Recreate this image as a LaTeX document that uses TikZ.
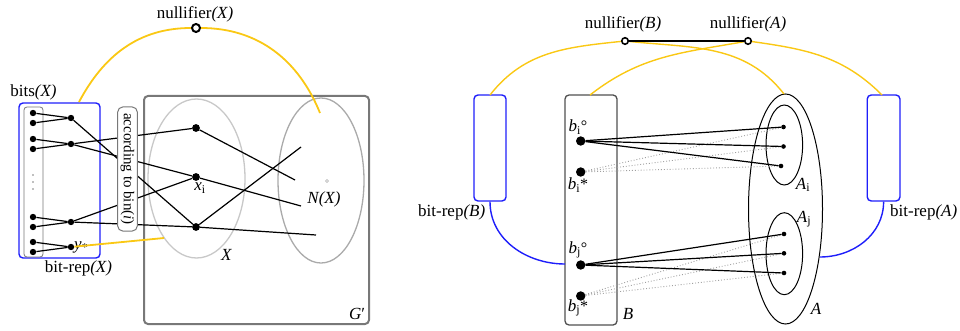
\documentclass[tikz,border=0pt]{standalone}
\usepackage{fontspec}
\setmainfont{Liberation Serif}
\usetikzlibrary{shapes.geometric}
\definecolor{gold}{RGB}{250,200,20}
\definecolor{repblue}{RGB}{30,30,250}
\definecolor{framegray}{RGB}{120,120,120}
\definecolor{setgray}{RGB}{200,200,200}
\definecolor{nbgray}{RGB}{170,170,170}
\definecolor{bgray}{RGB}{80,80,80}
% a bit variable: italic letter, upright index, then a mark
\newcommand{\bitvar}[3]{\textit{#1}\textsubscript{#2}{\fontsize{16}{16}\selectfont #3}}
\begin{document}
\begin{tikzpicture}[x=1pt,y=-1pt,
  lbl/.style={font=\fontsize{17}{19}\selectfont, inner sep=0pt},
  bitdot/.style={circle,fill=black,inner sep=0pt,minimum size=6.4pt},
  vdot/.style={circle,fill=black,inner sep=0pt,minimum size=7.8pt},
  bdot/.style={circle,fill=black,inner sep=0pt,minimum size=9.4pt},
  adot/.style={circle,fill=black,inner sep=0pt,minimum size=4.6pt},
  nulldot/.style={circle,draw=black,fill=white,inner sep=0pt},
  edge/.style={line width=1.2pt},
  weak/.style={draw=gray!75, dotted, line width=0.9pt},
  goldline/.style={draw=gold, line width=#1},
  goldline/.default=1.4pt,
  repline/.style={draw=repblue, line width=1.4pt},
  repbox/.style={draw=repblue, line width=1.4pt, rounded corners=4pt, inner sep=0pt},
  setell/.style={ellipse, inner sep=0pt},
]
\useasboundingbox (0,0) rectangle (960,331);

% ---------------- left part: bit representation of X ----------------
\node[draw=framegray, line width=2pt, rounded corners=4pt, minimum width=225pt, minimum height=228pt, inner sep=0pt] (Gp) at (256.5,210) {};
\node[lbl] at (357,314) {\textit{G}′};

\node[setell, draw=setgray, line width=1.3pt, minimum width=97pt, minimum height=159pt] (Xset) at (196.5,178.5) {};
\node[setell, draw=nbgray, line width=1.3pt, minimum width=86pt, minimum height=165pt] (NX) at (321,180.5) {};
\node[circle, draw=nbgray, line width=0.5pt, inner sep=0pt, minimum size=3pt] (nxc) at (327,181) {};
\node[lbl] at (226.5,255) {\textit{X}};
\node[lbl] at (324,199) {\textit{N(X)}};

\node[repbox, minimum width=81pt, minimum height=155pt] (bitrepX) at (59.5,180.5) {};
\node[draw=framegray, line width=0.8pt, rounded corners=3pt, minimum width=19pt, minimum height=150pt, inner sep=0pt] (bitsX) at (33.5,182) {};
\node[lbl] at (33.5,92) {bits\textit{(X)}};
\node[lbl] at (78.5,268) {bit-rep\textit{(X)}};

% bit vertices
\foreach \n/\y in {1/113,2/123,3/139,4/149,5/217,6/227,7/242,8/252}
  \node[bitdot] (l\n) at (33,\y) {};
\foreach \y in {175,182,189}
  \fill[gray] (33,\y) circle (0.8pt);
\foreach \n/\y in {1/118,2/144,3/222,4/247}
  \node[bitdot] (m\n) at (71,\y) {};
\node[font=\fontsize{17}{19}\selectfont, inner sep=0pt, anchor=west] at (74,247) {\textit{y}\textsubscript{*}};

% vertices of X
\node[vdot] (x1) at (196,128) {};
\node[vdot] (x2) at (196,177) {};
\node[vdot] (x3) at (196,227) {};
\node[lbl] at (200,188) {\textit{x}\textsubscript{i}};

\coordinate (n1) at (295,180);
\coordinate (n2) at (301,206);
\coordinate (n3) at (301,147);
\coordinate (n4) at (316,235);

\foreach \a/\b in {l1/m1,l2/m1,l3/m2,l4/m2,l5/m3,l6/m3,l7/m4,l8/m4,
                   m1/x3,m2/x1,m2/x2,m3/x2,m3/x3,
                   x1/n1,x2/n2,x3/n3,x3/n4}
  \draw[edge] (\a) -- (\b);

\node[draw=framegray, line width=1pt, fill=white, rounded corners=5pt, rotate=-90,
      minimum width=124pt, minimum height=19.6pt, inner sep=0pt,
      font=\fontsize{15}{17}\selectfont] (bin) at (127.5,169) {according to bin(\textit{i})};

% nullifier of X
\node[nulldot, line width=2pt, minimum size=8pt] (nullX) at (196,28) {};
\node[lbl] at (195,14) {nullifier\textit{(X)}};
\coordinate (gxs) at (79,102);
\coordinate (gxe) at (320,113);
\coordinate (gys) at (164,238);
\draw[goldline=1.8pt] (gxs) to[out=62,in=180] (nullX);
\draw[goldline=1.8pt] (nullX) to[out=0,in=112] (gxe);
\draw[goldline=1.8pt] (m4) -- (gys);

% ---------------- right part: sets A and B ----------------
\node[setell, draw=black, line width=1pt, minimum width=74pt, minimum height=230pt] (Aset) at (785.5,209) {};
\node[setell, draw=black, line width=1pt, minimum width=36.6pt, minimum height=80pt] (Ai) at (784.3,145) {};
\node[setell, draw=black, line width=1pt, minimum width=36.6pt, minimum height=82pt] (Aj) at (784.3,253.7) {};
\node[lbl] at (816,309) {\textit{A}};
\node[lbl] at (803,185) {\textit{A}\textsubscript{i}};
\node[lbl] at (804,219) {\textit{A}\textsubscript{j}};

\node[draw=bgray, line width=1.3pt, rounded corners=4pt, minimum width=52pt, minimum height=230pt, inner sep=0pt] (Bset) at (591,210) {};
\node[lbl] at (628,314) {\textit{B}};

\node[repbox, minimum width=32pt, minimum height=106pt] (bitrepB) at (490,148) {};
\node[repbox, minimum width=32.7pt, minimum height=106pt] (bitrepA) at (883.6,148) {};
\node[lbl] at (451.7,212.7) {bit-rep\textit{(B)}};
\node[lbl] at (923.7,212.7) {bit-rep\textit{(A)}};

\node[adot] (ai1) at (783.5,127) {};
\node[adot] (ai2) at (783.5,146.5) {};
\node[adot] (ai3) at (781,166) {};
\node[adot] (aj1) at (784,234) {};
\node[adot] (aj2) at (784,253.3) {};
\node[adot] (aj3) at (784,273) {};

\node[bdot] (bio) at (580.7,141) {};
\node[bdot] (bis) at (580.7,172) {};
\node[bdot] (bjo) at (580.7,265) {};
\node[bdot] (bjs) at (580.7,296) {};
\node[lbl] at (578,127) {\bitvar{b}{i}{°}};
\node[lbl] at (578,185) {\bitvar{b}{i}{*}};
\node[lbl] at (578,250) {\bitvar{b}{j}{°}};
\node[lbl] at (578,308) {\bitvar{b}{j}{*}};

\foreach \t in {ai1,ai2,ai3} {
  \draw[weak] (bis) -- (\t);
  \draw[edge] (bio) -- (\t);
}
\foreach \t in {aj1,aj2,aj3} {
  \draw[weak] (bjs) -- (\t);
  \draw[edge] (bjo) -- (\t);
}

% nullifiers of B and A
\node[nulldot, line width=1.6pt, minimum size=6.5pt] (nullB) at (625,41) {};
\node[nulldot, line width=1.6pt, minimum size=6.5pt] (nullA) at (748,41) {};
\node[lbl] at (623,24) {nullifier\textit{(B)}};
\node[lbl] at (748,24) {nullifier\textit{(A)}};

\coordinate (gB1) at (490,95);
\coordinate (gB2) at (590,95);
\coordinate (gA1) at (784,94);
\coordinate (gA2) at (882,95);
\draw[goldline] (gB1) to[out=52,in=186] (nullB);
\draw[goldline] (nullB) to[out=-6,in=128] (gA1);
\draw[goldline] (gB2) to[out=38,in=190] (nullA);
\draw[goldline] (nullA) to[out=-8,in=135] (gA2);
\draw[line width=1.5pt] (nullB) -- (nullA);

\coordinate (rB) at (565,264);
\coordinate (rA) at (820,257);
\draw[repline] (bitrepB.south) to[out=-90,in=180] (rB);
\draw[repline] (bitrepA.south) to[out=-90,in=0] (rA);
\end{tikzpicture}
\end{document}
